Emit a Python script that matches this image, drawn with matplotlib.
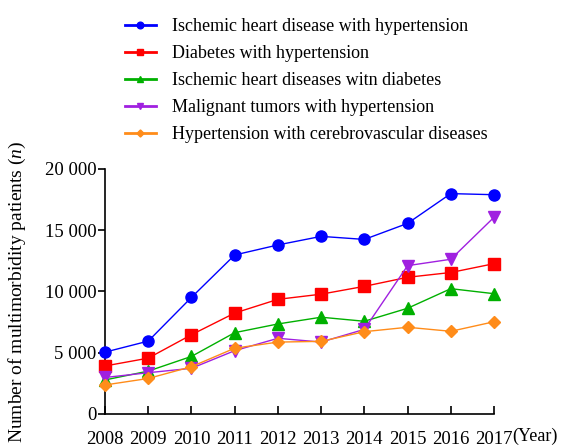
import matplotlib
matplotlib.use("Agg")
import matplotlib.pyplot as plt
from matplotlib.lines import Line2D

plt.rcParams['font.family'] = ['Liberation Serif', 'DejaVu Serif']
plt.rcParams['mathtext.fontset'] = 'custom'
plt.rcParams['mathtext.it'] = 'Liberation Serif:italic'
plt.rcParams['mathtext.rm'] = 'Liberation Serif'

years = [2008, 2009, 2010, 2011, 2012, 2013, 2014, 2015, 2016, 2017]
ihd_htn = [5050, 5950, 9520, 12980, 13800, 14500, 14250, 15560, 17990, 17900]
dm_htn = [3920, 4560, 6470, 8240, 9360, 9780, 10420, 11160, 11550, 12270]
ihd_dm = [2780, 3500, 4700, 6640, 7350, 7900, 7570, 8630, 10230, 9820]
tumor_htn = [2980, 3370, 3730, 5170, 6180, 5870, 6910, 12110, 12630, 16060]
htn_cvd = [2370, 2900, 3860, 5370, 5870, 5930, 6720, 7080, 6750, 7530]

labels = [
    "Ischemic heart disease with hypertension",
    "Diabetes with hypertension",
    "Ischemic heart diseases witn diabetes",
    "Malignant tumors with hypertension",
    "Hypertension with cerebrovascular diseases",
]
yticks = [0, 5000, 10000, 15000, 20000]
ytick_labels = ["0", "5 000", "10 000", "15 000", "20 000"]

series = [ihd_htn, dm_htn, ihd_dm, tumor_htn, htn_cvd]
colors = ["#0000ff", "#ff0000", "#00b000", "#a020e0", "#ff8c1a"]
markers = ["o", "s", "^", "v", "D"]
sizes = [8, 8, 8, 8, 6]

fig = plt.figure(figsize=(5.72, 4.48), dpi=100)
ax = fig.add_axes([0.1836, 0.0759, 0.6801, 0.5469])

handles = []
for vals, c, m, ms, lab in zip(series, colors, markers, sizes, labels):
    ax.plot(years, vals, color=c, marker=m, markersize=ms, lw=1.0,
            clip_on=False, zorder=3)
    # legend key: thicker line with a small marker
    handles.append(Line2D([], [], color=c, marker=m, markersize=ms * 0.6,
                          lw=2.0, label=lab))

ax.set_xlim(2008, 2017)
ax.set_ylim(0, 20000)
ax.set_xticks(years)
ax.set_xticklabels([str(y) for y in years], fontsize=13.5)
ax.set_yticks(yticks)
ax.set_yticklabels(ytick_labels, fontsize=13.5)
ax.tick_params(axis='y', direction='out', length=5, width=1.2, pad=1)
ax.tick_params(axis='x', direction='in', length=6, width=1.2, pad=12)
for s in ['top', 'right']:
    ax.spines[s].set_visible(False)
for s in ['left', 'bottom']:
    ax.spines[s].set_linewidth(1.2)

ax.set_ylabel("Number of multimorbidity patients ($n$)", fontsize=14, labelpad=12)
fig.text(0.935, 0.025, "(Year)", fontsize=13, ha='center', va='center')

fig.legend(handles=handles, loc='upper left', bbox_to_anchor=(0.19, 0.995),
           frameon=False, fontsize=13, handlelength=1.7, labelspacing=0.55,
           handletextpad=0.9)

fig.savefig("out.png", dpi=100)
